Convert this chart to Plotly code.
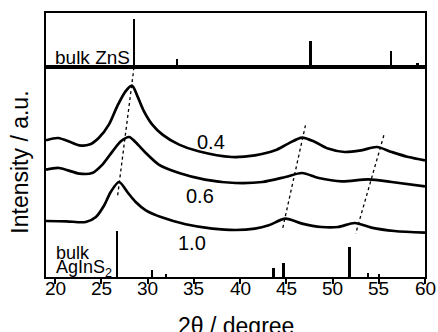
import plotly.graph_objects as go

# ---- data (intensities in arbitrary units) ----
two_theta_04 = [19.0, 20.3, 21.7, 22.6, 23.7, 24.7, 25.8, 26.7, 27.6, 28.3, 28.9, 29.6, 30.5,
                31.6, 33.4, 35.5, 39.1, 41.6, 43.8, 45.2, 46.7, 48.1, 49.5, 51.3, 53.1, 54.8,
                56.4, 58.2, 60.0]
intensity_04 = [136.7, 139.0, 134.7, 131.7, 132.4, 139.0, 152.4, 170.7, 185.7, 191.4, 180.7,
                165.7, 152.4, 142.4, 132.4, 125.7, 120.0, 121.7, 126.7, 133.4, 139.4, 135.0,
                128.4, 125.0, 126.7, 130.0, 125.0, 120.0, 116.7]

two_theta_06 = [19.0, 20.4, 22.6, 24.0, 25.1, 26.2, 27.1, 28.0, 28.7, 29.8, 31.2, 33.4, 36.2,
                39.5, 42.4, 44.9, 46.7, 48.5, 51.0, 53.9, 56.4, 60.0]
intensity_06 = [107.4, 109.0, 103.4, 104.0, 112.4, 125.7, 135.7, 140.0, 134.7, 124.0, 112.4,
                104.0, 97.4, 94.0, 95.0, 100.0, 104.0, 99.0, 95.7, 97.7, 95.0, 90.7]

two_theta_10 = [19.0, 21.2, 23.3, 24.4, 25.3, 26.0, 26.9, 27.8, 28.7, 29.8, 31.6, 34.1, 37.0,
                39.5, 41.6, 43.1, 44.9, 46.7, 48.8, 50.6, 52.4, 54.2, 56.7, 60.0]
intensity_10 = [56.0, 55.7, 55.0, 60.0, 71.7, 85.0, 95.0, 85.0, 75.0, 66.7, 59.4, 52.7, 48.4,
                47.0, 48.4, 51.7, 58.4, 53.4, 50.0, 50.0, 54.0, 49.4, 46.0, 44.4]

series_labels = ["0.4", "0.6", "1.0"]
label_x = [36.87, 35.62, 34.81]
label_y = [134.9, 80.9, 33.9]

# dotted guide lines following the peak shift
guide_x = [[28.52, 26.73], [47.07, 44.6], [55.55, 52.5]]
guide_y = [[209.7, 80.0], [151.7, 48.4], [141.7, 43.4]]

# reference stick patterns
agins2_pos = [26.69, 30.46, 32.0, 43.6, 44.7, 51.85, 53.86, 55.0]
agins2_int = [45.7, 6.7, 2.4, 8.4, 14.0, 29.4, 4.0, 2.7]
zns_pos = [28.5, 33.15, 47.6, 56.3, 59.2]
zns_int = [48.0, 8.0, 26.0, 16.3, 4.0]

x_ticks = [20, 25, 30, 35, 40, 45, 50, 55, 60]
x_tick_labels = ["20", "25", "30", "35", "40", "45", "50", "55", "60"]

FONT = "Liberation Sans, Arial, Helvetica, sans-serif"

fig = go.Figure()

for xs, ys in [(two_theta_04, intensity_04), (two_theta_06, intensity_06), (two_theta_10, intensity_10)]:
    fig.add_trace(go.Scatter(x=xs, y=ys, mode="lines",
                             line=dict(color="black", width=2.7, shape="spline", smoothing=0.8),
                             hoverinfo="skip", showlegend=False))

for gx, gy in zip(guide_x, guide_y):
    fig.add_trace(go.Scatter(x=gx, y=gy, mode="lines",
                             line=dict(color="black", width=1.3, dash="dot"),
                             hoverinfo="skip", showlegend=False))

fig.add_trace(go.Bar(x=agins2_pos, y=agins2_int, width=0.26, marker=dict(color="black", line=dict(width=0)),
                     showlegend=False, xaxis="x", yaxis="y"))
fig.add_trace(go.Bar(x=zns_pos, y=zns_int, width=0.26, marker=dict(color="black", line=dict(width=0)),
                     showlegend=False, xaxis="x2", yaxis="y2"))

annotations = []
for t, lx, ly in zip(series_labels, label_x, label_y):
    annotations.append(dict(x=lx, y=ly, xref="x", yref="y", text=t, showarrow=False,
                            font=dict(size=20, color="black", family=FONT),
                            xanchor="center", yanchor="middle"))
for tv, tl in zip(x_ticks, x_tick_labels):
    annotations.append(dict(x=tv, y=-0.0417, xref="x", yref="paper", text=tl, showarrow=False,
                            font=dict(size=19, color="black", family=FONT),
                            xanchor="center", yanchor="middle"))
annotations += [
    dict(x=19.72, y=10.0, xref="x2", yref="y2", text="bulk ZnS", showarrow=False,
         font=dict(size=19, color="black", family=FONT), xanchor="left", yanchor="middle"),
    dict(x=19.89, y=24.0, xref="x", yref="y", text="bulk", showarrow=False,
         font=dict(size=18, color="black", family=FONT), xanchor="left", yanchor="middle"),
    dict(x=19.89, y=8.7, xref="x", yref="y", text="AgInS<sub>2</sub>", showarrow=False,
         font=dict(size=18, color="black", family=FONT), xanchor="left", yanchor="middle"),
    dict(x=-0.068, y=0.434, xref="paper", yref="paper", text="Intensity / a.u.", showarrow=False,
         textangle=-90, font=dict(size=23, color="black", family=FONT),
         xanchor="center", yanchor="middle"),
    dict(x=0.5, y=-0.185, xref="paper", yref="paper", text="2θ / degree", showarrow=False,
         font=dict(size=23, color="black", family=FONT), xanchor="center", yanchor="middle"),
]

main_top = 209.7 / 264.0

fig.update_layout(
    width=438, height=332,
    margin=dict(l=46, r=11, t=13, b=55, pad=0),
    paper_bgcolor="white", plot_bgcolor="white",
    font=dict(family=FONT, color="black"),
    showlegend=False,
    bargap=0,
    xaxis=dict(range=[19, 60], domain=[0, 1], anchor="y", tickvals=x_ticks,
               ticks="outside", ticklen=5, tickwidth=2, tickcolor="black",
               showticklabels=False,
               showline=True, linewidth=2, linecolor="black", mirror=True,
               showgrid=False, zeroline=False),
    yaxis=dict(range=[0, 209.7], domain=[0, main_top], anchor="x",
               showticklabels=False, ticks="", showline=True, linewidth=2,
               linecolor="black", mirror=True, showgrid=False, zeroline=False),
    xaxis2=dict(range=[19, 60], domain=[0, 1], anchor="y2", matches="x",
                showticklabels=False, ticks="", showline=True, linewidth=2,
                linecolor="black", mirror=True, showgrid=False, zeroline=False),
    yaxis2=dict(range=[0, 54.3], domain=[main_top, 1], anchor="x2",
                showticklabels=False, ticks="", showline=True, linewidth=2,
                linecolor="black", mirror=True, showgrid=False, zeroline=False),
    annotations=annotations,
)

fig.write_html("out.html", config={"displayModeBar": False},
               post_script="document.body.style.margin='0';")
